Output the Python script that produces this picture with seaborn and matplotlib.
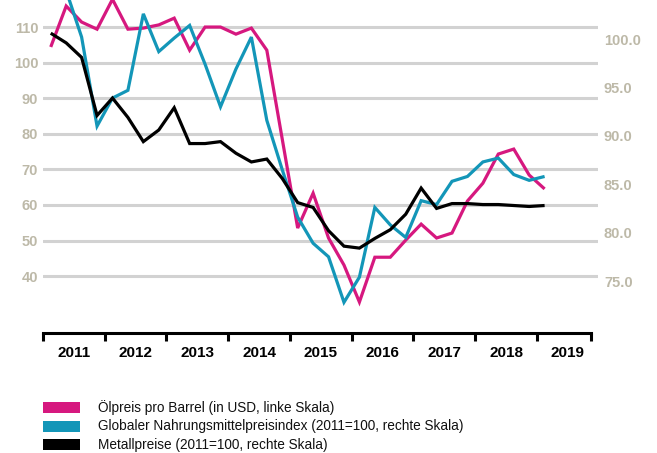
import matplotlib
matplotlib.use("Agg")
import matplotlib.pyplot as plt
import seaborn as sns
import pandas as pd
from matplotlib.patches import Rectangle

# --- Daten (Quartalswerte) ---
years = ["2011", "2012", "2013", "2014", "2015", "2016", "2017", "2018", "2019"]
quarters = [f"{y}Q{q}" for y in range(2011, 2019) for q in range(1, 5)] + ["2019Q1"]

oil = [104.4, 115.9, 111.4, 109.4, 117.8, 109.4, 109.7, 110.6, 112.5, 103.5,
       110.0, 110.0, 108.0, 109.7, 103.5, 78.5, 53.5, 63.3, 50.7, 43.1,
       32.7, 45.3, 45.3, 50.1, 54.6, 50.7, 52.1, 61.1, 66.1, 74.3,
       75.7, 68.4, 64.5]
food = [104.2, 105.0, 100.2, 91.0, 93.9, 94.7, 102.6, 98.7, 100.1, 101.4,
        97.4, 93.0, 96.9, 100.2, 91.6, 86.5, 81.6, 78.9, 77.5, 72.8,
        75.4, 82.6, 80.8, 79.5, 83.3, 82.9, 85.3, 85.8, 87.3, 87.7,
        86.0, 85.4, 85.8]
metal = [100.6, 99.6, 98.1, 92.1, 93.9, 91.9, 89.4, 90.6, 92.9, 89.2,
         89.2, 89.4, 88.2, 87.3, 87.6, 85.6, 83.1, 82.6, 80.2, 78.6,
         78.4, 79.4, 80.3, 81.9, 84.6, 82.5, 83.0, 83.0, 82.9, 82.9,
         82.8, 82.7, 82.8]

left_ticks = [40, 50, 60, 70, 80, 90, 100, 110]
right_ticks = [75, 80, 85, 90, 95, 100]

labels = [
    "Ölpreis pro Barrel (in USD, linke Skala)",
    "Globaler Nahrungsmittelpreisindex (2011=100, rechte Skala)",
    "Metallpreise (2011=100, rechte Skala)",
]

PINK = "#D6187F"
TEAL = "#1396B8"
BLACK = "#000000"
GRID = "#D2D2D2"
LABEL_GRAY = "#BDB9A8"

df = pd.DataFrame({"quarter": quarters, "oil": oil, "food": food, "metal": metal})
# Position: Jahr ab 2011 + Quartalsmitte
df["pos"] = [(int(q[:4]) - 2011) + (int(q[-1]) - 0.5) / 4 for q in df["quarter"]]

sns.set_theme(style="white")
plt.rcParams["font.family"] = ["Liberation Sans", "DejaVu Sans"]

fig = plt.figure(figsize=(6.57, 4.53), dpi=100)
ax = fig.add_axes([0.0655, 0.2649, 0.8447, 0.7351])
ax2 = ax.twinx()

line_kw = dict(linewidth=2.3, solid_joinstyle="miter", solid_capstyle="butt")
sns.lineplot(data=df, x="pos", y="oil", ax=ax, color=PINK, **line_kw)
sns.lineplot(data=df, x="pos", y="food", ax=ax2, color=TEAL, **line_kw)
sns.lineplot(data=df, x="pos", y="metal", ax=ax2, color=BLACK, **line_kw)

# --- Achsen ---
ax.set_xlim(0, 8.99)
ax.set_ylim(24.0, 117.6)
ax2.set_ylim(69.63, 104.03)

ax.set_yticks(left_ticks)
ax.set_yticklabels([str(t) for t in left_ticks])
ax.yaxis.grid(True, color=GRID, linewidth=2.2)
ax.xaxis.grid(False)
ax.set_axisbelow(True)
ax.tick_params(axis="y", length=0, pad=3.5, labelsize=10.5, labelcolor=LABEL_GRAY)
for lab in ax.get_yticklabels():
    lab.set_fontweight("bold")

ax2.set_yticks(right_ticks)
ax2.set_yticklabels([f"{t:.1f}" for t in right_ticks])
ax2.grid(False)
ax2.tick_params(axis="y", length=0, pad=4.3, labelsize=10.5, labelcolor=LABEL_GRAY)
for lab in ax2.get_yticklabels():
    lab.set_fontweight("bold")

# Jahresgrenzen als Striche, Jahreszahlen dazwischen
ax.set_xticks(list(range(9)) + [8.875])
ax.set_xticklabels([])
ax.tick_params(axis="x", which="major", bottom=True, length=6, width=2.2,
               color=BLACK, direction="out")
ax.set_xticks([i + 0.5 for i in range(9)], minor=True)
ax.set_xticklabels(years, minor=True, fontsize=11, fontweight="bold", color=BLACK)
ax.tick_params(axis="x", which="minor", bottom=True, length=0, pad=9)

for s in ["top", "left", "right"]:
    ax.spines[s].set_visible(False)
for s in ax2.spines.values():
    s.set_visible(False)
ax.spines["bottom"].set_linewidth(2.2)
ax.spines["bottom"].set_color(BLACK)
ax.spines["bottom"].set_bounds(0, 8.875)

for a in (ax, ax2):
    a.set_xlabel("")
    a.set_ylabel("")

# --- Legende ---
W, H = 657, 453
for i, (lab, col) in enumerate(zip(labels, [PINK, TEAL, BLACK])):
    yc = 407.5 + i * 18.7
    fig.add_artist(Rectangle((43 / W, 1 - (yc + 5.5) / H), 37 / W, 11 / H,
                             transform=fig.transFigure, color=col, lw=0))
    fig.text(98 / W, 1 - yc / H, lab, fontsize=9.8, va="center", ha="left", color="#111111")

fig.savefig("out.png", dpi=100)
